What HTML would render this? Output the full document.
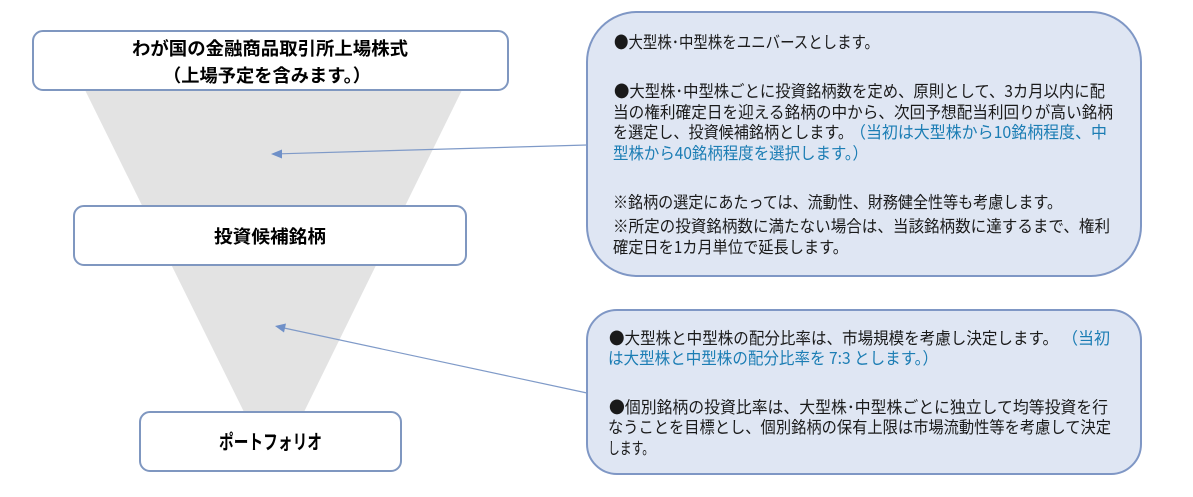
<!DOCTYPE html>
<html lang="ja">
<head>
<meta charset="utf-8">
<style>
html,body{margin:0;padding:0;background:#fff;width:1193px;height:497px;overflow:hidden}
svg{display:block}
text{font-family:"Noto Sans CJK JP","Liberation Sans",sans-serif;font-size:16.5px;fill:#1a1a1a}
.b{font-weight:700;fill:#000;font-size:18px}
.c{fill:#1b7db4}
</style>
</head>
<body>
<svg width="1193" height="497" viewBox="0 0 1193 497" xmlns="http://www.w3.org/2000/svg">
<polygon points="85,90 462,90 304,412 244,412" fill="#e3e3e3"/>
<g fill="#fff" stroke="#7f97c0" stroke-width="2">
<rect x="33" y="31" width="475" height="59" rx="10"/>
<rect x="74" y="206" width="392" height="59" rx="10"/>
<rect x="140" y="412" width="261" height="59" rx="10"/>
</g>
<g fill="#dfe6f3" stroke="#7f97c5" stroke-width="2">
<rect x="587" y="12" width="554" height="264" rx="50"/>
<rect x="587" y="310" width="554" height="164" rx="30"/>
</g>
<g stroke="#7f9ac8" stroke-width="1.2">
<line x1="587" y1="145" x2="280" y2="153.800"/>
<line x1="587" y1="393" x2="284" y2="328"/>
</g>
<polygon points="271,154 282,149.500 282,158.500" fill="#6f90c8"/>
<polygon points="275,326 286,323.500 284,332.500" fill="#6f90c8"/>

<text class="b" x="132" y="55" textLength="276" lengthAdjust="spacingAndGlyphs">わが国の金融商品取引所上場株式</text>
<text class="b" x="163" y="82" textLength="208" lengthAdjust="spacingAndGlyphs">（上場予定を含みます。）</text>
<text class="b" x="214" y="243" textLength="112" lengthAdjust="spacingAndGlyphs">投資候補銘柄</text>
<text class="b" x="219" y="449" textLength="103" lengthAdjust="spacingAndGlyphs" style="font-size:20px">ポートフォリオ</text>

<text x="614" y="48" textLength="265" lengthAdjust="spacingAndGlyphs">●大型株･中型株をユニバースとします。</text>
<text x="614" y="97" textLength="491" lengthAdjust="spacingAndGlyphs">●大型株･中型株ごとに投資銘柄数を定め、原則として、3カ月以内に配</text>
<text x="613" y="118" textLength="500" lengthAdjust="spacingAndGlyphs">当の権利確定日を迎える銘柄の中から、次回予想配当利回りが高い銘柄</text>
<text x="613" y="138" textLength="240" lengthAdjust="spacingAndGlyphs">を選定し、投資候補銘柄とします。</text>
<text class="c" x="850" y="138" textLength="257" lengthAdjust="spacingAndGlyphs">（当初は大型株から10銘柄程度、中</text>
<text class="c" x="613" y="159" textLength="255" lengthAdjust="spacingAndGlyphs">型株から40銘柄程度を選択します。）</text>
<text x="613" y="208" textLength="449" lengthAdjust="spacingAndGlyphs">※銘柄の選定にあたっては、流動性、財務健全性等も考慮します。</text>
<text x="613" y="232" textLength="497" lengthAdjust="spacingAndGlyphs">※所定の投資銘柄数に満たない場合は、当該銘柄数に達するまで、権利</text>
<text x="613" y="253" textLength="235" lengthAdjust="spacingAndGlyphs">確定日を1カ月単位で延長します。</text>

<text x="609" y="344" textLength="449" lengthAdjust="spacingAndGlyphs">●大型株と中型株の配分比率は、市場規模を考慮し決定します。</text>
<text class="c" x="1062" y="344" textLength="48" lengthAdjust="spacingAndGlyphs">（当初</text>
<text class="c" x="608" y="364" textLength="330" lengthAdjust="spacingAndGlyphs">は大型株と中型株の配分比率を 7:3 とします。）</text>
<text x="609" y="413" textLength="499" lengthAdjust="spacingAndGlyphs">●個別銘柄の投資比率は、大型株･中型株ごとに独立して均等投資を行</text>
<text x="608" y="433" textLength="503" lengthAdjust="spacingAndGlyphs">なうことを目標とし、個別銘柄の保有上限は市場流動性等を考慮して決定</text>
<text x="608" y="454" textLength="46" lengthAdjust="spacingAndGlyphs">します。</text>
</svg>
</body>
</html>
